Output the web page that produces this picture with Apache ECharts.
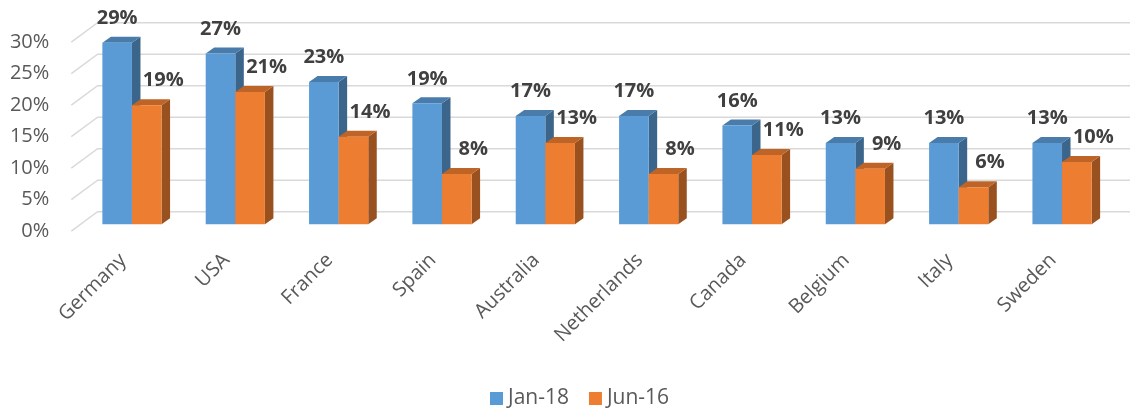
<!DOCTYPE html>
<html>
<head>
<meta charset="utf-8">
<script src="https://cdn.jsdelivr.net/npm/echarts@6/dist/echarts.min.js"></script>
<style>
  html, body { margin:0; padding:0; background:#fff; }
  #chart { width:1130px; height:408px; }
</style>
</head>
<body>
<div id="chart"></div>
<script>
const categories = ["Germany","USA","France","Spain","Australia","Netherlands","Canada","Belgium","Italy","Sweden"];
const jan18 = [28.8, 27.1, 22.6, 19.2, 17.2, 17.2, 15.7, 12.9, 12.9, 12.9];
const jun16 = [18.9, 21.0, 13.9, 8.0, 12.9, 8.0, 11.0, 8.8, 5.9, 9.9];
const tickValues = [0, 5, 10, 15, 20, 25, 30];

// pseudo 3d offsets, relative to the bar front plane
const FRONT = [-9, 6.8];
const BAR_BACK = [8.5, -6];
const WALL = [17.3, -12.6];
const BAR_W = 29.6;

const FONT = '"Open Sans", "Liberation Sans", sans-serif';

function gridRender(params, api){
  const v = api.value(1);
  const band = api.size([1, 0])[0];
  const p0 = api.coord([0, v]);
  const p1 = api.coord([categories.length - 1, v]);
  const left = p0[0] - band / 2, right = p1[0] + band / 2, y = p0[1];
  return {
    type: "polyline",
    shape: { points: [
      [left + FRONT[0], y + FRONT[1]],
      [left + WALL[0], y + WALL[1]],
      [right + WALL[0], y + WALL[1]]
    ]},
    style: { stroke: "#d9d9d9", lineWidth: 1.4, fill: null }
  };
}

function makeBar(side, front, top, sideCol, labelDx){
  return function(params, api){
    const idx = api.value(0);
    const val = api.value(1);
    const pTop = api.coord([idx, val]);
    const pBase = api.coord([idx, 0]);
    const xl = side === 0 ? pTop[0] - BAR_W : pTop[0];
    const xr = xl + BAR_W;
    const yt = pTop[1], yb = pBase[1];
    const dx = BAR_BACK[0], dy = BAR_BACK[1];
    return {
      type: "group",
      children: [
        { type: "polygon", shape: { points: [[xr, yt], [xr + dx, yt + dy], [xr + dx, yb + dy], [xr, yb]] },
          style: { fill: sideCol } },
        { type: "polygon", shape: { points: [[xl, yt], [xr, yt], [xr + dx, yt + dy], [xl + dx, yt + dy]] },
          style: { fill: top } },
        { type: "rect", shape: { x: xl, y: yt, width: BAR_W, height: yb - yt },
          style: { fill: front } },
        { type: "text", z2: 10,
          style: { text: Math.round(val) + "%", x: (xl + xr) / 2 + labelDx, y: yt - 24.5,
            align: "center", verticalAlign: "middle",
            font: 'bold 20px ' + FONT, fill: "#404040" } }
      ]
    };
  };
}

const chart = echarts.init(document.getElementById("chart"));
chart.setOption({
  backgroundColor: "#fff",
  animation: false,
  legend: {
    left: 485, top: 383,
    itemWidth: 13, itemHeight: 13, itemGap: 20,
    icon: "rect",
    textStyle: { fontFamily: FONT, fontSize: 21, color: "#595959" },
    data: ["Jan-18", "Jun-16"]
  },
  grid: [
    { left: 80.3, right: 16.3, top: 35.3, bottom: 183.7 },
    { left: 71.3, right: 25.3, top: 42.1, bottom: 176.9 }
  ],
  xAxis: [
    { type: "category", data: categories, gridIndex: 0, show: false },
    { type: "category", data: categories, gridIndex: 1,
      axisLine: { show: false }, axisTick: { show: false },
      axisLabel: { rotate: 45, margin: 26, fontFamily: FONT, fontSize: 20, color: "#595959", interval: 0 } }
  ],
  yAxis: [
    { type: "value", gridIndex: 0, min: 0, max: 30, interval: 5, show: false },
    { type: "value", gridIndex: 1, min: 0, max: 30, interval: 5,
      axisLine: { show: false }, axisTick: { show: false }, splitLine: { show: false },
      axisLabel: { formatter: "{value}%", margin: 22, fontFamily: FONT, fontSize: 20, color: "#595959" } }
  ],
  series: [
    { type: "custom", name: "grid", silent: true, z: 1, clip: false,
      renderItem: gridRender, encode: { x: 0, y: 1 },
      data: tickValues.map(v => [0, v]) },
    { type: "custom", name: "Jan-18", z: 2, clip: false,
      itemStyle: { color: "#5b9bd5" },
      renderItem: makeBar(0, "#5b9bd5", "#497caa", "#3b658a", 0),
      encode: { x: 0, y: 1 },
      data: jan18.map((v, i) => [i, v]) },
    { type: "custom", name: "Jun-16", z: 3, clip: false,
      itemStyle: { color: "#ed7d31" },
      renderItem: makeBar(1, "#ed7d31", "#be6427", "#9a5120", 16.5),
      encode: { x: 0, y: 1 },
      data: jun16.map((v, i) => [i, v]) }
  ]
});
</script>
</body>
</html>
